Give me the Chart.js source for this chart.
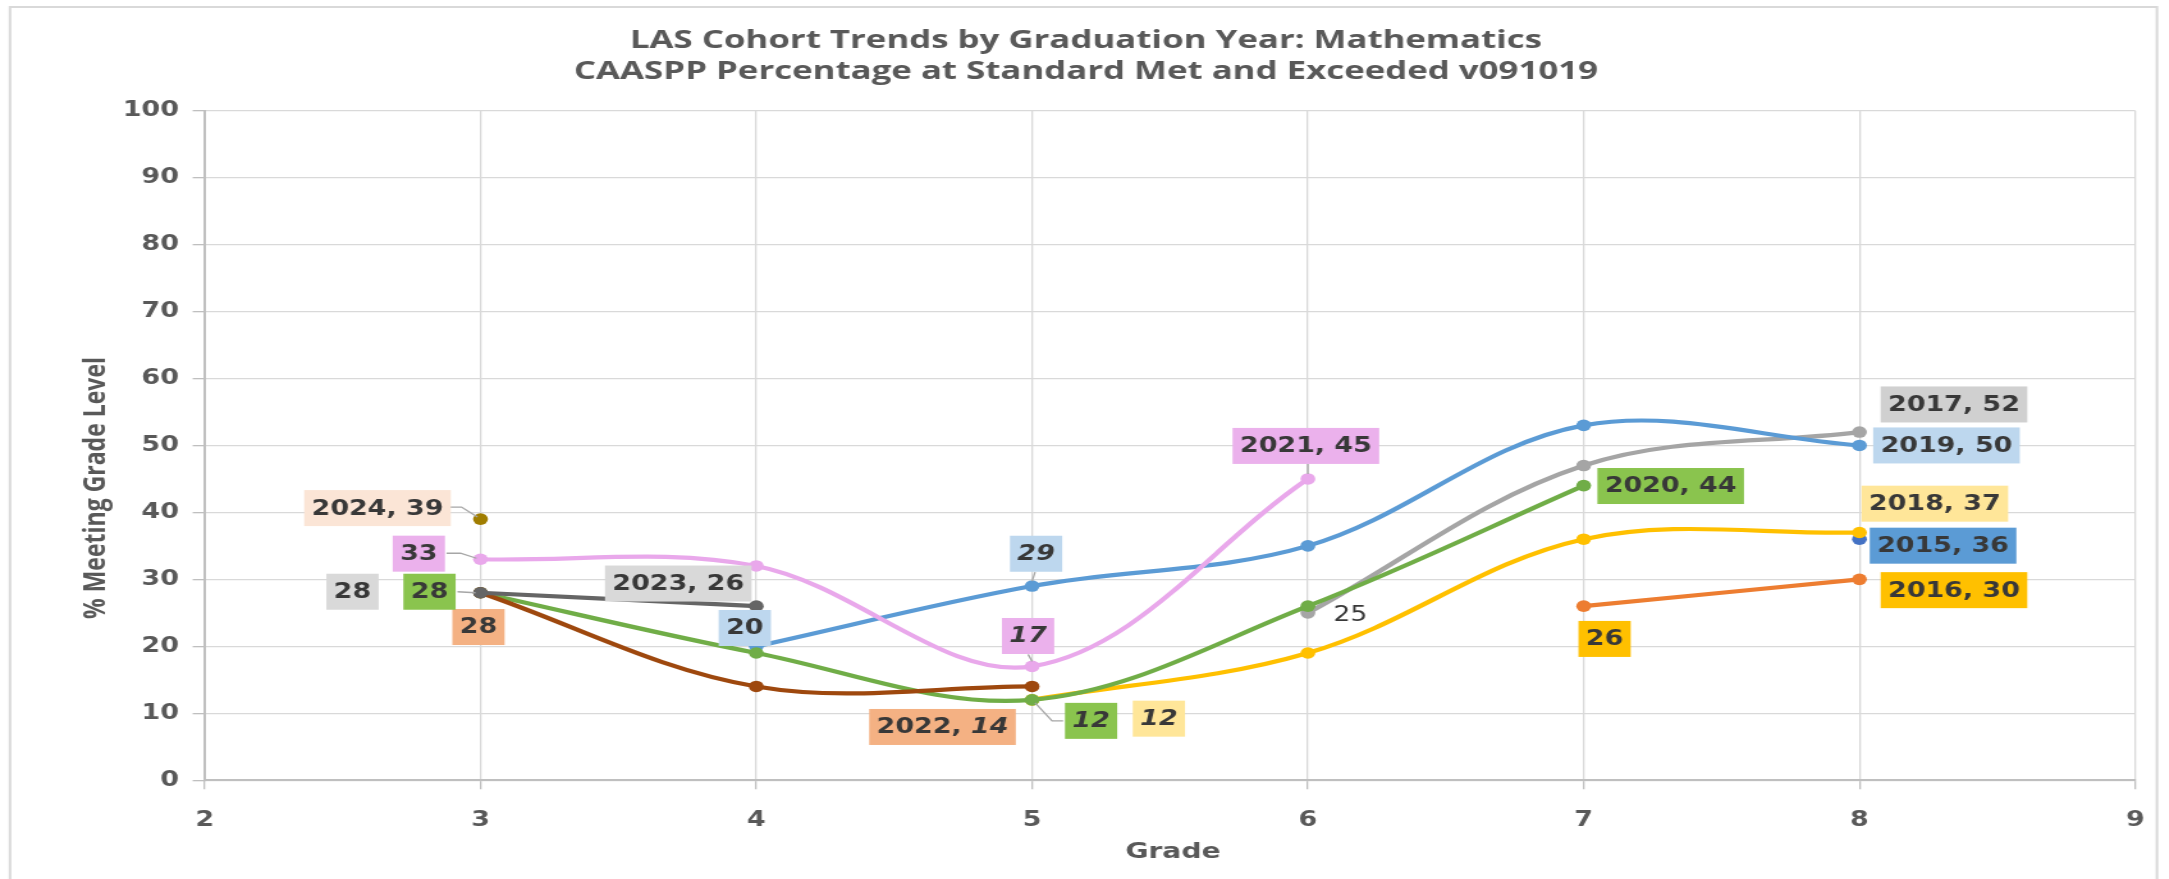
<!DOCTYPE html>
<html>
<head>
<meta charset="utf-8">
<title>LAS Cohort Trends by Graduation Year: Mathematics</title>
<style>
  html, body { margin: 0; padding: 0; background: #ffffff; overflow: hidden; }
  #wrap { width: 2169px; height: 879px; overflow: hidden; }
  #chart { display: block; transform: scaleX(1.2796); transform-origin: 0 0; }
</style>
<script src="https://cdn.jsdelivr.net/npm/chart.js@4.4.1/dist/chart.umd.min.js"></script>
</head>
<body>
<div id="wrap"><canvas id="chart" width="1695" height="879"></canvas></div>
<script>
// ---- data: % at Standard Met and Exceeded, by cohort (graduation year) ----
const years = ['2024', '2023', '2022', '2021', '2020', '2019', '2018', '2017', '2016', '2015'];

const grades2024 = [3];             const pct2024 = [39];
const grades2023 = [3, 4];          const pct2023 = [28, 26];
const grades2022 = [3, 4, 5];       const pct2022 = [28, 14, 14];
const grades2021 = [3, 4, 5, 6];    const pct2021 = [33, 32, 17, 45];
const grades2020 = [3, 4, 5, 6, 7]; const pct2020 = [28, 19, 12, 26, 44];
const grades2019 = [4, 5, 6, 7, 8]; const pct2019 = [20, 29, 35, 53, 50];
const grades2018 = [5, 6, 7, 8];    const pct2018 = [12, 19, 36, 37];
const grades2017 = [6, 7, 8];       const pct2017 = [25, 47, 52];
const grades2016 = [7, 8];          const pct2016 = [26, 30];
const grades2015 = [8];             const pct2015 = [36];

const gradeTicks = [2, 3, 4, 5, 6, 7, 8, 9];
const pctTicks = [0, 10, 20, 30, 40, 50, 60, 70, 80, 90, 100];

const titleLines = ['LAS Cohort Trends by Graduation Year: Mathematics',
                    'CAASPP Percentage at Standard Met and Exceeded v091019'];
const xTitle = 'Grade';
const yTitle = '% Meeting Grade Level';

const seriesGrades = [grades2024, grades2023, grades2022, grades2021, grades2020,
                      grades2019, grades2018, grades2017, grades2016, grades2015];
const seriesPct = [pct2024, pct2023, pct2022, pct2021, pct2020,
                   pct2019, pct2018, pct2017, pct2016, pct2015];

// ---- styling ----
const lineColors = ['#A07D00', '#656565', '#9E480E', '#E9A8EB', '#70AD47',
                    '#5B9BD5', '#FFC000', '#A5A5A5', '#ED7D31', '#4472C4'];
const tagFills = ['#FBE5D6', '#D9D9D9', '#F4B183', '#EBB1EC', '#8AC44E',
                  '#BDD7EE', '#FFE699', '#D0D0D0', '#FFC000', '#5B9BD5'];

// the page is drawn narrow and widened horizontally by the canvas transform
const W = 1695, H = 879;
const S = 2169 / W;

// placement of each point tag: offset of the tag centre from its point (page px),
// kind: 'full' = "year, value", 'value' = value only; leader = bend points of the pointer line
const tagLayout = [
  { year: '2024', grade: 3, dx: -103,  dy: -11,   kind: 'full',  leader: [[-31, -12], [-19, -12], [-3, -2]] },
  { year: '2023', grade: 3, dx: -128,  dy: -1,    kind: 'value' },
  { year: '2023', grade: 4, dx: -78,   dy: -22.6, kind: 'full' },
  { year: '2022', grade: 3, dx: -2,    dy: 34.3,  kind: 'value' },
  { year: '2022', grade: 5, dx: -89.6, dy: 40.5,  kind: 'full',  italicValue: true },
  { year: '2021', grade: 3, dx: -61.7, dy: -5.6,  kind: 'value', leader: [[-34, -6], [-20, -6], [-4, -1]] },
  { year: '2021', grade: 5, dx: -4,    dy: -30.4, kind: 'value', italicValue: true, leader: [[-4, -12], [0, -5]] },
  { year: '2021', grade: 6, dx: -2,    dy: -33,   kind: 'full',  leader: [[0, -15], [0, -5]] },
  { year: '2020', grade: 3, dx: -51,   dy: -1,    kind: 'value', leader: [[-23, -1], [-5, 0]] },
  { year: '2020', grade: 5, dx: 59,    dy: 21,    kind: 'value', italicValue: true, leader: [[3, 3], [20, 21], [31, 21]] },
  { year: '2020', grade: 7, dx: 87,    dy: 0.4,   kind: 'full' },
  { year: '2019', grade: 4, dx: -11.5, dy: -18.3, kind: 'value' },
  { year: '2019', grade: 5, dx: 4,     dy: -32.3, kind: 'value', italicValue: true, leader: [[3, -14], [0, -5]] },
  { year: '2019', grade: 8, dx: 87,    dy: 0,     kind: 'full' },
  { year: '2018', grade: 5, dx: 126.8, dy: 18.8,  kind: 'value', italicValue: true },
  { year: '2018', grade: 8, dx: 75.4,  dy: -28.8, kind: 'full' },
  { year: '2017', grade: 6, dx: 42.5,  dy: 2,     kind: 'value', plain: true },
  { year: '2017', grade: 8, dx: 94.5,  dy: -27.6, kind: 'full' },
  { year: '2016', grade: 7, dx: 20.9,  dy: 32.8,  kind: 'value' },
  { year: '2016', grade: 8, dx: 94.5,  dy: 10.8,  kind: 'full' },
  { year: '2015', grade: 8, dx: 83.6,  dy: 6.5,   kind: 'full' }
];

const TAG_FONT = '"DejaVu Sans", Verdana, sans-serif';
const TAG_SIZE = 21;
const TAG_H = 36;
const TAG_PAD = 5.8;
const TEXT_DARK = '#383838';
const AXIS_GREY = '#595959';

// draws one line of text widened by sx around its centre
function wideText(ctx, text, cx, y, sx) {
  ctx.save();
  ctx.translate(cx, y);
  ctx.scale(sx, 1);
  ctx.fillText(text, 0, 0);
  ctx.restore();
}

// white page with a thin frame, plus the chart and axis titles
const framePlugin = {
  id: 'frameAndTitles',
  beforeDraw(chart) {
    const ctx = chart.ctx;
    ctx.save();
    ctx.fillStyle = '#ffffff';
    ctx.fillRect(0, 0, W, H);
    ctx.strokeStyle = '#D9D9D9';
    ctx.lineWidth = 2;
    ctx.strokeRect(10 / S, 7, 2157 / S - 10 / S, 900);

    ctx.fillStyle = AXIS_GREY;
    ctx.textAlign = 'center';
    ctx.textBaseline = 'alphabetic';
    ctx.font = 'bold 24.5px "Open Sans", sans-serif';
    wideText(ctx, titleLines[0], 1086 / S, 48, 1.11);
    wideText(ctx, titleLines[1], 1086 / S, 79, 1.11);

    const area = chart.chartArea;
    ctx.font = 'bold 22px "DejaVu Sans", sans-serif';
    ctx.fillText(xTitle, (area.left + area.right) / 2 + 3 / S, 858);

    ctx.translate(97 / S, 488);
    ctx.rotate(-Math.PI / 2);
    ctx.textBaseline = 'middle';
    ctx.font = 'bold 23px "Open Sans", sans-serif';
    ctx.fillText(yTitle, 0, 0);
    ctx.restore();
  }
};

// boxed value tags beside the points
const tagPlugin = {
  id: 'pointTags',
  afterDatasetsDraw(chart) {
    const ctx = chart.ctx;
    ctx.save();
    tagLayout.forEach(tag => {
      const si = years.indexOf(tag.year);
      const idx = seriesGrades[si].indexOf(tag.grade);
      const pt = chart.getDatasetMeta(si).data[idx];
      const value = seriesPct[si][idx];
      const px = pt.x, py = pt.y;
      const cx = px + tag.dx / S, cy = py + tag.dy;

      const lead = tag.kind === 'full' ? tag.year + ', ' : '';
      const valTxt = String(value);
      const weight = tag.plain ? 'normal' : 'bold';
      const fLead = `${weight} ${TAG_SIZE}px ${TAG_FONT}`;
      const fVal = `${tag.italicValue ? 'italic ' : ''}${weight} ${TAG_SIZE}px ${TAG_FONT}`;
      ctx.font = fLead;
      const wLead = ctx.measureText(lead).width;
      ctx.font = fVal;
      const wVal = ctx.measureText(valTxt).width;
      const tw = wLead + wVal;
      const bw = tw + TAG_PAD * 2;

      if (tag.leader) {
        ctx.strokeStyle = '#A6A6A6';
        ctx.lineWidth = 1.3;
        ctx.beginPath();
        tag.leader.forEach((p, k) => {
          const x = px + p[0] / S, y = py + p[1];
          if (k === 0) ctx.moveTo(x, y); else ctx.lineTo(x, y);
        });
        ctx.stroke();
      }
      if (!tag.plain) {
        ctx.fillStyle = tagFills[si];
        ctx.fillRect(cx - bw / 2, cy - TAG_H / 2, bw, TAG_H);
      }
      ctx.fillStyle = TEXT_DARK;
      ctx.textBaseline = 'middle';
      ctx.textAlign = 'left';
      const x0 = cx - tw / 2;
      ctx.font = fLead;
      ctx.fillText(lead, x0, cy + 1);
      ctx.font = fVal;
      ctx.fillText(valTxt, x0 + wLead, cy + 1);
    });
    ctx.restore();
  }
};

const datasets = years.map((yr, i) => ({
  label: yr,
  data: seriesGrades[i].map((g, k) => ({ x: g, y: seriesPct[i][k] })),
  borderColor: lineColors[i],
  backgroundColor: lineColors[i],
  pointBackgroundColor: lineColors[i],
  pointBorderColor: lineColors[i],
  pointBorderWidth: 0,
  pointRadius: 5.8,
  borderWidth: 4.2,
  tension: 0.35,
  fill: false
}));

const tickFont = { family: 'DejaVu Sans', weight: 'bold', size: 21 };

new Chart(document.getElementById('chart'), {
  type: 'line',
  data: { datasets },
  options: {
    responsive: false,
    animation: false,
    events: [],
    layout: { padding: { top: 110.7, left: 0, right: W - 2138.6 / S, bottom: 0 } },
    plugins: {
      legend: { display: false },
      title: { display: false },
      tooltip: { enabled: false }
    },
    scales: {
      x: {
        type: 'linear',
        min: gradeTicks[0],
        max: gradeTicks[gradeTicks.length - 1],
        afterFit(scale) { scale.height = H - 780.2; },
        afterBuildTicks(scale) { scale.ticks = gradeTicks.map(v => ({ value: v })); },
        ticks: { color: AXIS_GREY, font: tickFont, padding: 19 },
        grid: { color: '#D9D9D9', lineWidth: 1.3, tickLength: 9, tickColor: '#BFBFBF' },
        border: { color: '#BFBFBF', width: 2 }
      },
      y: {
        min: pctTicks[0],
        max: pctTicks[pctTicks.length - 1],
        afterFit(scale) { scale.width = 204.7 / S; },
        afterBuildTicks(scale) { scale.ticks = pctTicks.map(v => ({ value: v })); },
        ticks: { color: AXIS_GREY, font: tickFont, padding: 10.8 },
        grid: { color: '#D9D9D9', lineWidth: 1.3, tickLength: 12 / S, tickColor: '#BFBFBF' },
        border: { color: '#BFBFBF', width: 2 }
      }
    }
  },
  plugins: [framePlugin, tagPlugin]
});
</script>
</body>
</html>
